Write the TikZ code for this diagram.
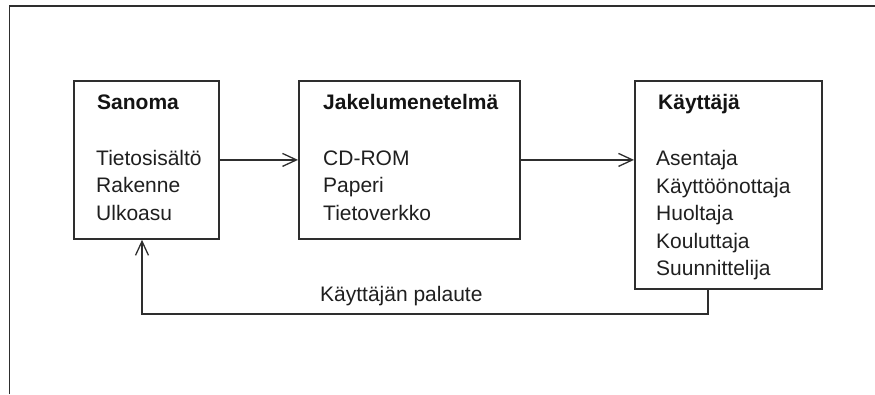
\documentclass[tikz,border=0pt]{standalone}
\usepackage{fontspec}
\setmainfont{Liberation Sans}
\usetikzlibrary{arrows.meta}
\begin{document}
\begin{tikzpicture}[x=1pt,y=-1pt,
  ink/.style={line width=1.8pt, draw=black!82},
  box/.style={ink, rectangle, inner sep=0pt, anchor=north west},
  head/.style={anchor=base west, inner sep=0pt, font=\fontsize{21}{25}\selectfont\bfseries, text=black!92},
  item/.style={anchor=base west, inner sep=0pt, font=\fontsize{21}{25}\selectfont, text=black!88},
  flow/.style={ink, -{Straight Barb[length=14pt,width=13pt,line width=1.3pt]}}
]
\useasboundingbox (0,0) rectangle (875,394);

% outer frame (left and top edges)
\draw[ink] (9.5,394) -- (9.5,6) -- (875,6);

% the three boxes
\node[box, minimum width=145pt, minimum height=158pt] (sanoma) at (73,80) {};
\node[box, minimum width=221pt, minimum height=158pt] (jakelu) at (298,80) {};
\node[box, minimum width=187pt, minimum height=208pt] (kayttaja) at (634,80) {};

% Sanoma
\node[head] (sh) at (97,109) {Sanoma};
\node[item] (s1) at (96,165) {Tietosisältö};
\node[item] (s2) at (96,192.5) {Rakenne};
\node[item] (s3) at (96,220) {Ulkoasu};

% Jakelumenetelmä
\node[head] (jh) at (323,109) {Jakelumenetelmä};
\node[item] (j1) at (323,165) {CD-ROM};
\node[item] (j2) at (323,192.5) {Paperi};
\node[item] (j3) at (323,220) {Tietoverkko};

% Käyttäjä
\node[head] (kh) at (658,109) {Käyttäjä};
\node[item] (k1) at (656,165.5) {Asentaja};
\node[item] (k2) at (656,193) {Käyttöönottaja};
\node[item] (k3) at (656,220.5) {Huoltaja};
\node[item] (k4) at (656,248) {Kouluttaja};
\node[item] (k5) at (656,275.5) {Suunnittelija};

% forward flow
\draw[flow] (sanoma.east) -- (sanoma.east -| jakelu.west);
\draw[flow] (jakelu.east) -- (jakelu.east -| kayttaja.west);

% feedback loop
\coordinate (fbR) at (708,314);
\coordinate (fbL) at (142,314);
\draw[flow] (kayttaja.south -| fbR) -- (fbR) -- (fbL) -- (sanoma.south -| fbL);
\node[item] (palaute) at (320,301) {Käyttäjän palaute};
\end{tikzpicture}
\end{document}
